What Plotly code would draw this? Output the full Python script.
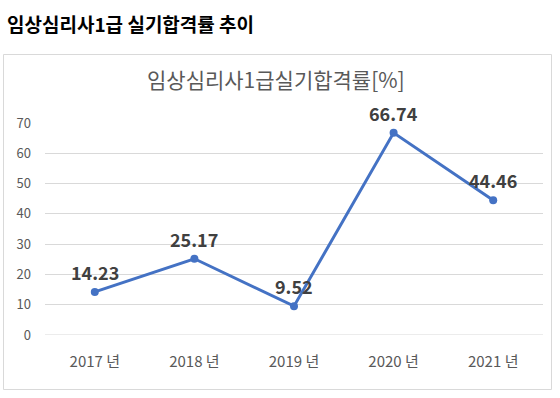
import plotly.graph_objects as go

categories = ["2017 년", "2018 년", "2019 년", "2020 년", "2021 년"]
rates = [14.23, 25.17, 9.52, 66.74, 44.46]
y_ticks = [0, 10, 20, 30, 40, 50, 60, 70]

FONT = "Noto Sans CJK KR"
W, H = 560, 398
L, R, T, B = 45, 17, 123, 63
pw, ph = W - L - R, H - T - B

def px_x(p):
    return (p - L) / pw

def px_y(p):
    return (H - B - p) / ph

fig = go.Figure()
fig.add_trace(go.Scatter(
    x=categories, y=rates, mode="lines+markers",
    line=dict(color="#4472C4", width=3),
    marker=dict(color="#4472C4", size=8),
    cliponaxis=False,
    hoverinfo="skip",
))

annotations = [
    dict(text="<b>임상심리사1급 실기합격률 추이</b>", xref="paper", yref="paper",
         x=px_x(5), y=px_y(23), xanchor="left", yanchor="middle",
         showarrow=False, font=dict(family=FONT, size=19, color="#000000")),
    dict(text="임상심리사1급실기합격률[%]", xref="paper", yref="paper",
         x=px_x(276), y=px_y(79), xanchor="center", yanchor="middle",
         showarrow=False, font=dict(family=FONT, size=21, color="#595959")),
]
for c, v in zip(categories, rates):
    annotations.append(dict(
        x=c, y=v, xref="x", yref="y", text=f"<b>{v:.2f}</b>",
        showarrow=False, yanchor="middle", xanchor="center", yshift=20,
        font=dict(family=FONT, size=18, color="#404040"),
    ))

fig.update_layout(
    width=W, height=H,
    margin=dict(l=L, r=R, t=T, b=B),
    paper_bgcolor="white", plot_bgcolor="white",
    showlegend=False,
    font=dict(family=FONT, color="#595959"),
    xaxis=dict(
        type="category", range=[-0.5, 4.5],
        showgrid=False, zeroline=False, showline=False,
        ticks="", tickfont=dict(size=15, color="#595959"),
        ticklabelstandoff=16,
    ),
    yaxis=dict(
        range=[0, 70], tickvals=y_ticks,
        showgrid=True, gridcolor="#D9D9D9", gridwidth=1,
        zeroline=False, showline=False, ticks="",
        tickfont=dict(size=13, color="#595959"),
        ticklabelstandoff=13,
    ),
    shapes=[
        dict(type="rect", xref="paper", yref="paper",
             x0=px_x(3.5), x1=px_x(551.5), y0=px_y(389.5), y1=px_y(54.5),
             line=dict(color="#D9D9D9", width=1), fillcolor="rgba(0,0,0,0)",
             layer="below"),
        dict(type="line", xref="paper", yref="y", x0=0, x1=1, y0=0, y1=0,
             line=dict(color="#D9D9D9", width=1), layer="below"),
    ],
    annotations=annotations,
)

fig.write_html("out.html",
               config={"displayModeBar": False, "staticPlot": True},
               post_script="document.body.style.margin='0';document.body.style.overflow='hidden';")
